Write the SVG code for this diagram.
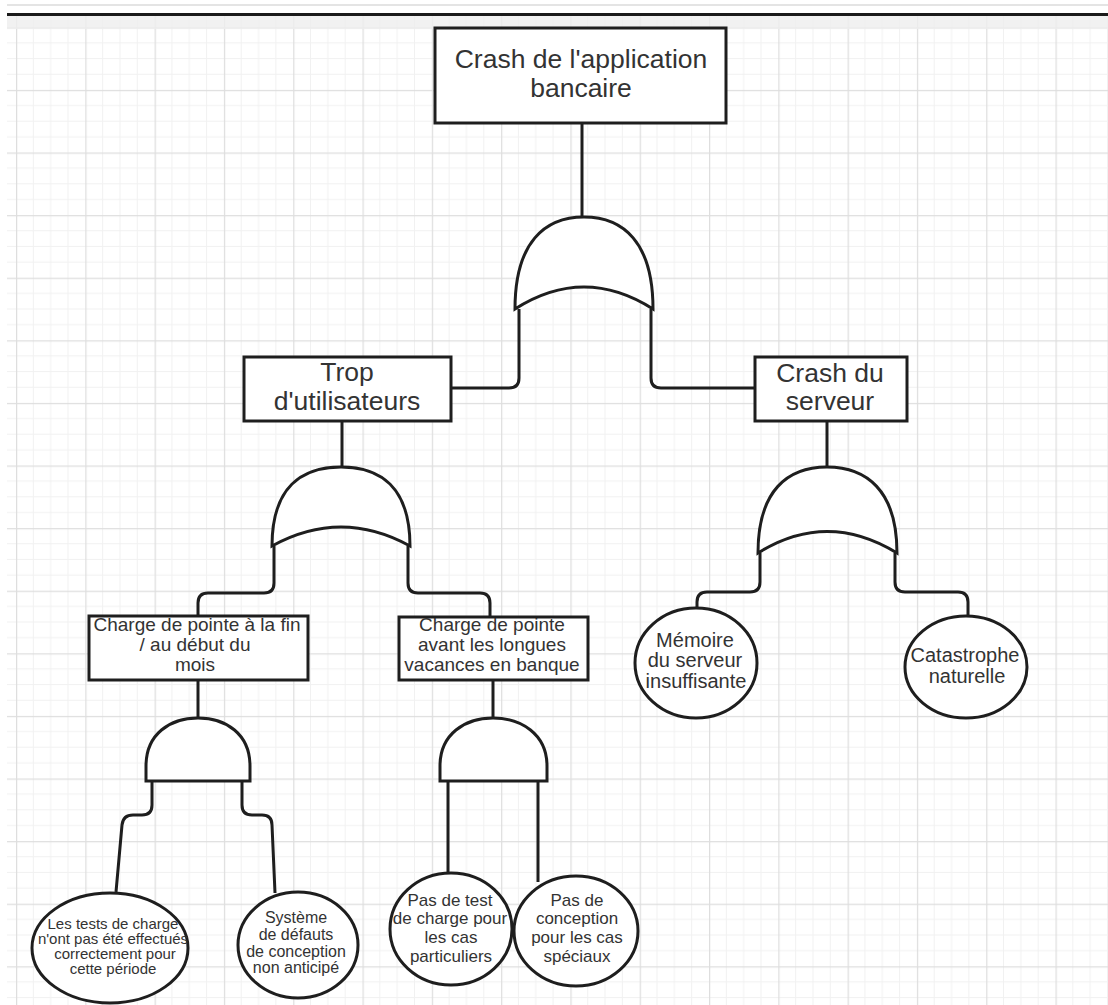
<svg xmlns="http://www.w3.org/2000/svg" width="1108" height="1005" viewBox="0 0 1108 1005">
  <style>
    .shape { fill: #ffffff; stroke: #1e1e1e; stroke-width: 3; }
    .wire { fill: none; stroke: #1e1e1e; stroke-width: 3; stroke-linejoin: round; }
    .lbl { font-family: "Liberation Sans", Arial, sans-serif; fill: #333333; text-anchor: middle; }
    .big { font-size: 26.5px; }
    .mid { font-size: 19px; }
  </style>
  <defs>
    <pattern id="grid" patternUnits="userSpaceOnUse" x="16" y="27.3" width="69.3" height="62.6">
      <path d="M17.3,0 V62.6 M34.65,0 V62.6 M52,0 V62.6 M0,15.65 H69.3 M0,31.3 H69.3 M0,46.95 H69.3" fill="none" stroke="#f1f1f1" stroke-width="1"/>
      <path d="M0.5,0 V62.6 M0,0.5 H69.3" fill="none" stroke="#dedede" stroke-width="1.5"/>
    </pattern>
  </defs>

  <!-- canvas background and editor header -->
  <rect x="0" y="0" width="1108" height="1005" fill="#ffffff"/>
  <rect x="7" y="16" width="1101" height="989" fill="url(#grid)"/>
  <rect x="7" y="16" width="1101" height="13" fill="#eeeeee" opacity="0.8"/>
  <line x1="7" y1="5" x2="1108" y2="5" stroke="#e4e4e4" stroke-width="2"/>
  <line x1="7" y1="14.5" x2="1108" y2="14.5" stroke="#1a1a1a" stroke-width="3"/>

  <!-- connectors -->
  <g id="connectors" class="wire">
    <path d="M582,123 V218"/>
    <path d="M519,309 V378 Q519,388 509,388 H451"/>
    <path d="M651,309 V378 Q651,388 661,388 H755"/>
    <path d="M342,421 V467"/>
    <path d="M827,421 V467"/>
    <path d="M274,546 V583 Q274,593 264,593 H208 Q198,593 198,603 V616"/>
    <path d="M408,546 V583 Q408,593 418,593 H480 Q490,593 490,603 V617"/>
    <path d="M760,553 V582 Q760,592 750,592 H707 Q697,592 697,602 V608"/>
    <path d="M895,553 V582 Q895,592 905,592 H958 Q968,592 968,602 V617"/>
    <path d="M198,680 V718"/>
    <path d="M493,680 V718"/>
    <path d="M152,781 V805 Q152,815 142,815 H133 Q123,815 122,825 L116,892"/>
    <path d="M242,781 V805 Q242,815 252,815 H262 Q272,815 272,825 L275,893"/>
    <path d="M448,781 V873"/>
    <path d="M538,781 V882"/>
  </g>

  <!-- gates -->
  <g id="gate-or-top">
    <path class="shape" d="M515,309 C515,242 545,217 584,217 C623,217 653,242 653,309 Q584,265 515,309 Z"/>
  </g>
  <g id="gate-or-users">
    <path class="shape" d="M272,546 C272,487 302,467 341,467 C380,467 410,487 410,546 Q341,508 272,546 Z"/>
  </g>
  <g id="gate-or-server">
    <path class="shape" d="M758,553 C758,490 788,467 827,467 C866,467 897,490 897,553 Q827,510 758,553 Z"/>
  </g>
  <g id="gate-and-month">
    <path class="shape" d="M146,781 V766 C146,734 170,718 198,718 C226,718 250,734 250,766 V781 Z"/>
  </g>
  <g id="gate-and-holidays">
    <path class="shape" d="M440,781 V766 C440,734 465,718 493,718 C521,718 547,734 547,766 V781 Z"/>
  </g>

  <!-- events -->
  <g id="top-event">
    <rect class="shape" x="435" y="28" width="291" height="95"/>
    <text class="lbl big" x="581" y="68">Crash de l'application</text>
    <text class="lbl big" x="581" y="97">bancaire</text>
  </g>
  <g id="too-many-users">
    <rect class="shape" x="244" y="357" width="207" height="64"/>
    <text class="lbl big" x="347" y="381">Trop</text>
    <text class="lbl big" x="347" y="410">d'utilisateurs</text>
  </g>
  <g id="server-crash">
    <rect class="shape" x="755" y="357" width="152" height="64"/>
    <text class="lbl big" x="830" y="382">Crash du</text>
    <text class="lbl big" x="830" y="410">serveur</text>
  </g>
  <g id="month-peak">
    <rect class="shape" x="89" y="616" width="219" height="64"/>
    <text class="lbl mid" x="197" y="631">Charge de pointe à la fin</text>
    <text class="lbl mid" x="195" y="651">/ au début du</text>
    <text class="lbl mid" x="195" y="671">mois</text>
  </g>
  <g id="holiday-peak">
    <rect class="shape" x="399" y="617" width="189" height="63"/>
    <text class="lbl mid" x="492" y="631">Charge de pointe</text>
    <text class="lbl mid" x="492" y="651">avant les longues</text>
    <text class="lbl mid" x="492" y="671">vacances en banque</text>
  </g>

  <!-- basic events -->
  <g id="memory">
    <ellipse class="shape" cx="696" cy="663" rx="61" ry="55"/>
    <text class="lbl" font-size="20" x="695" y="647">Mémoire</text>
    <text class="lbl" font-size="20" x="695" y="667">du serveur</text>
    <text class="lbl" font-size="20" x="696" y="688">insuffisante</text>
  </g>
  <g id="disaster">
    <ellipse class="shape" cx="966" cy="667" rx="61" ry="51"/>
    <text class="lbl" font-size="20" x="965" y="662">Catastrophe</text>
    <text class="lbl" font-size="20" x="967" y="683">naturelle</text>
  </g>
  <g id="load-tests">
    <ellipse class="shape" cx="110" cy="948" rx="78" ry="55"/>
    <text class="lbl" font-size="15" x="113" y="929">Les tests de charge</text>
    <text class="lbl" font-size="15" x="113" y="944">n'ont pas été effectués</text>
    <text class="lbl" font-size="15" x="115" y="959">correctement pour</text>
    <text class="lbl" font-size="15" x="113" y="974">cette période</text>
  </g>
  <g id="design-defects">
    <ellipse class="shape" cx="298" cy="945" rx="60" ry="53"/>
    <text class="lbl" font-size="16" x="296" y="923">Système</text>
    <text class="lbl" font-size="16" x="296" y="940">de défauts</text>
    <text class="lbl" font-size="16" x="296" y="957">de conception</text>
    <text class="lbl" font-size="16" x="296" y="973">non anticipé</text>
  </g>
  <g id="no-load-test">
    <ellipse class="shape" cx="451" cy="929" rx="61" ry="56"/>
    <text class="lbl" font-size="17" x="450" y="906">Pas de test</text>
    <text class="lbl" font-size="17" x="450" y="924">de charge pour</text>
    <text class="lbl" font-size="17" x="451" y="943">les cas</text>
    <text class="lbl" font-size="17" x="451" y="962">particuliers</text>
  </g>
  <g id="no-design">
    <ellipse class="shape" cx="576" cy="931" rx="62" ry="55"/>
    <text class="lbl" font-size="17" x="577" y="906">Pas de</text>
    <text class="lbl" font-size="17" x="577" y="924">conception</text>
    <text class="lbl" font-size="17" x="577" y="943">pour les cas</text>
    <text class="lbl" font-size="17" x="577" y="962">spéciaux</text>
  </g>
</svg>
